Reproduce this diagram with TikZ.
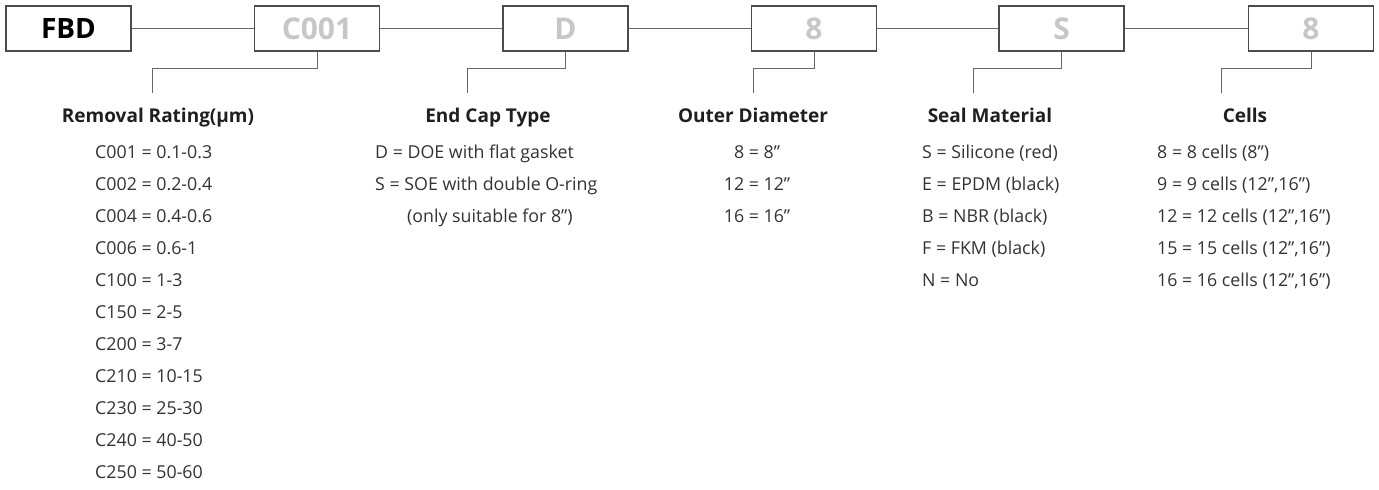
\documentclass[tikz,border=0pt]{standalone}
\usepackage{fontspec}
\setmainfont{Open Sans}
\begin{document}
\begin{tikzpicture}[x=1pt,y=-1pt,
  codebox/.style={draw=black!70,line width=1.1pt,minimum width=125pt,minimum height=45pt,inner sep=0pt,text=black!22,font=\fontsize{30}{34}\selectfont\bfseries},
  firstbox/.style={codebox,text=black,font=\fontsize{28}{32}\selectfont\bfseries},
  link/.style={draw=black!60,line width=1pt},
  head/.style={anchor=base,font=\fontsize{19}{22}\selectfont\bfseries,text=black!88,inner sep=0pt},
  item/.style={anchor=base west,font=\fontsize{17.8}{21}\selectfont,text=black!80,inner sep=0pt},
  itemc/.style={item,anchor=base}]
\useasboundingbox (0,0) rectangle (1379,490);
\node[firstbox] (fbd) at (68.5,28.5) {FBD};
\node[codebox] (c1) at (317,28.5) {C001};
\node[codebox] (c2) at (565.5,28.5) {D};
\node[codebox] (c3) at (814,28.5) {8};
\node[codebox] (c4) at (1061.5,28.5) {S};
\node[codebox] (c5) at (1311,28.5) {8};
\draw[link] (fbd.east) -- (c1.west);
\draw[link] (c1.east) -- (c2.west);
\draw[link] (c2.east) -- (c3.west);
\draw[link] (c3.east) -- (c4.west);
\draw[link] (c4.east) -- (c5.west);
\coordinate (k1) at (152,68); \coordinate (e1) at (152,93);
\coordinate (k2) at (467,68); \coordinate (e2) at (467,93);
\coordinate (k3) at (753,68); \coordinate (e3) at (753,93);
\coordinate (k4) at (973,68); \coordinate (e4) at (973,93);
\coordinate (k5) at (1221,68); \coordinate (e5) at (1221,93);
\draw[link] (c1.south) |- (k1) -- (e1);
\draw[link] (c2.south) |- (k2) -- (e2);
\draw[link] (c3.south) |- (k3) -- (e3);
\draw[link] (c4.south) |- (k4) -- (e4);
\draw[link] (c5.south) |- (k5) -- (e5);
% headings
\node[head] (h1) at (158,122) {Removal Rating(µm)};
\node[head] (h2) at (488,122) {End Cap Type};
\node[head] (h3) at (753,122) {Outer Diameter};
\node[head] (h4) at (990,122) {Seal Material};
\node[head] (h5) at (1245,122) {Cells};
% removal rating
\foreach \t [count=\i from 0] in {C001 = 0.1-0.3,C002 = 0.2-0.4,C004 = 0.4-0.6,C006 = 0.6-1,C100 = 1-3,C150 = 2-5,C200 = 3-7,C210 = 10-15,C230 = 25-30,C240 = 40-50,C250 = 50-60}
  \node[item] (r\i) at (95,158+32*\i) {\t};
% end cap
\node[item] (d0) at (375,158) {D = DOE with flat gasket};
\node[item] (d1) at (375,190) {S = SOE with double O-ring};
\node[item] (d2) at (407,222) {(only suitable for 8”)};
% outer diameter
\node[itemc] (o0) at (757,158) {8 = 8”};
\node[itemc] (o1) at (757,190) {12 = 12”};
\node[itemc] (o2) at (757,222) {16 = 16”};
% seal
\foreach \t [count=\i from 0] in {S = Silicone (red),E = EPDM (black),B = NBR (black),F = FKM (black),N = No}
  \node[item] (s\i) at (922,158+32*\i) {\t};
% cells
\foreach \t [count=\i from 0] in {8 = 8 cells (8”),{9 = 9 cells (12”,16”)},{12 = 12 cells (12”,16”)},{15 = 15 cells (12”,16”)},{16 = 16 cells (12”,16”)}}
  \node[item] (n\i) at (1157,158+32*\i) {\t};
\end{tikzpicture}
\end{document}
